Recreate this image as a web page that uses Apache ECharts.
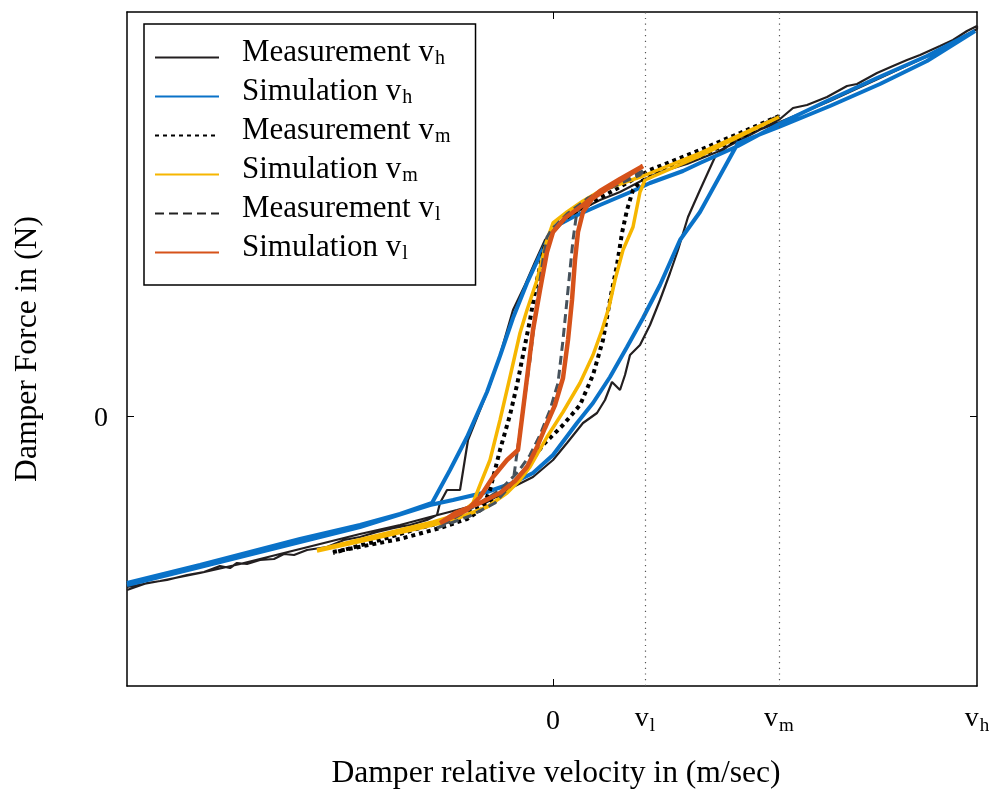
<!DOCTYPE html>
<html>
<head>
<meta charset="utf-8">
<script src="https://cdn.jsdelivr.net/npm/echarts@6/dist/echarts.min.js"></script>
<style>
  html, body { margin: 0; padding: 0; background: #fff; }
  #chart { width: 996px; height: 789px; }
</style>
</head>
<body>
<div id="chart"></div>
<script>
// Damper force vs. relative velocity: measured and simulated hysteresis loops
// at three excitation speeds (low, medium, high). Values are [velocity, force].

const measVh = [
  [-4.26,-1.74],[-4.06,-1.67],[-3.86,-1.64],[-3.66,-1.59],[-3.49,-1.56],[-3.33,-1.50],
  [-3.23,-1.52],[-3.16,-1.47],[-3.06,-1.48],[-2.93,-1.44],[-2.79,-1.43],[-2.69,-1.38],
  [-2.59,-1.39],[-2.46,-1.34],[-2.26,-1.31],[-2.09,-1.24],[-1.93,-1.21],[-1.76,-1.16],
  [-1.59,-1.12],[-1.43,-1.09],[-1.26,-1.04],[-1.16,-0.99],[-1.13,-0.87],[-1.06,-0.74],
  [-0.93,-0.74],[-0.85,-0.24],[-0.73,0.06],[-0.63,0.31],[-0.53,0.61],[-0.40,1.06],
  [-0.28,1.31],[-0.18,1.54],[-0.08,1.76],[0.07,1.94],[0.27,2.06],[0.47,2.16],
  [0.67,2.24],[0.90,2.36],[1.07,2.44],[1.34,2.52],[1.64,2.64],[1.97,2.81],
  [2.27,2.97],[2.40,3.08],[2.54,3.11],[2.74,3.19],[2.94,3.30],[3.04,3.32],
  [3.24,3.43],[3.40,3.50],[3.54,3.56],[3.67,3.61],[3.87,3.70],[4.00,3.76],
  [4.14,3.85],[4.24,3.90],
  [4.24,3.87],[3.77,3.61],[3.27,3.38],[2.77,3.15],[2.27,2.94],[1.85,2.78],
  [1.62,2.59],[1.47,2.26],[1.35,1.99],[1.25,1.66],[1.17,1.43],[1.07,1.16],
  [0.97,0.91],[0.87,0.71],[0.77,0.61],[0.72,0.41],[0.67,0.26],[0.59,0.34],
  [0.52,0.16],[0.44,0.03],[0.30,-0.07],[0.14,-0.27],[0.00,-0.44],[-0.20,-0.61],
  [-0.40,-0.71],[-0.66,-0.86],[-0.96,-0.94],[-1.23,-1.01],[-1.53,-1.09],[-1.93,-1.18],
  [-2.33,-1.28],[-2.73,-1.38],[-3.13,-1.48],[-3.53,-1.57],[-3.93,-1.65],[-4.26,-1.71]
];

const simVh = [
  [-4.26,-1.67],[-3.53,-1.49],[-2.53,-1.23],[-1.93,-1.09],[-1.53,-0.98],[-1.21,-0.87],
  [-1.03,-0.54],[-0.86,-0.21],[-0.66,0.24],[-0.53,0.60],[-0.40,0.98],[-0.26,1.33],
  [-0.13,1.61],[-0.03,1.81],[0.07,1.92],[0.20,1.99],[0.47,2.11],[0.80,2.25],
  [0.97,2.33],[1.30,2.45],[1.47,2.53],[1.85,2.70],[2.26,2.92],[2.74,3.15],
  [3.24,3.38],[3.74,3.60],[4.22,3.85],
  [4.22,3.83],[3.74,3.55],[3.27,3.32],[2.77,3.10],[2.26,2.89],[1.85,2.73],
  [1.47,2.04],[1.27,1.76],[1.07,1.31],[0.90,0.98],[0.74,0.69],[0.57,0.39],
  [0.40,0.13],[0.24,-0.07],[0.00,-0.39],[-0.20,-0.57],[-0.40,-0.67],[-0.66,-0.76],
  [-1.00,-0.84],[-1.23,-0.89],[-1.93,-1.11],[-2.53,-1.26],[-3.53,-1.51],[-4.26,-1.69]
];

const measVm = [
  [-2.20,-1.36],[-1.53,-1.23],[-1.13,-1.12],[-0.86,-1.03],[-0.71,-0.93],[-0.63,-0.74],
  [-0.53,-0.34],[-0.43,0.01],[-0.36,0.31],[-0.30,0.61],[-0.23,0.96],[-0.16,1.36],
  [-0.08,1.71],[-0.01,1.86],[0.17,2.01],[0.47,2.18],[0.72,2.32],[0.97,2.46],
  [1.47,2.66],[1.87,2.83],[2.26,3.00],
  [1.87,2.78],[1.47,2.60],[1.07,2.44],[0.87,2.34],[0.80,2.26],[0.74,2.06],
  [0.69,1.83],[0.64,1.51],[0.57,1.16],[0.50,0.76],[0.40,0.41],[0.27,0.11],
  [0.10,-0.09],[-0.10,-0.29],[-0.23,-0.47],[-0.43,-0.72],[-0.66,-0.88],[-1.00,-1.04],
  [-1.33,-1.12],[-1.73,-1.24],[-2.20,-1.37]
];

const simVm = [
  [-2.36,-1.34],[-1.53,-1.14],[-1.20,-1.06],[-0.93,-0.98],[-0.80,-0.87],[-0.73,-0.69],
  [-0.63,-0.44],[-0.53,-0.04],[-0.43,0.39],[-0.33,0.83],[-0.26,1.06],[-0.16,1.36],
  [-0.06,1.76],[0.00,1.93],[0.14,2.04],[0.30,2.15],[0.47,2.25],[0.90,2.40],
  [1.47,2.63],[2.26,2.99],
  [1.47,2.60],[0.92,2.36],[0.87,2.24],[0.80,1.89],[0.70,1.66],[0.62,1.36],
  [0.56,1.09],[0.49,0.86],[0.40,0.61],[0.27,0.33],[0.10,0.04],[-0.06,-0.21],
  [-0.23,-0.51],[-0.33,-0.64],[-0.46,-0.77],[-0.66,-0.91],[-1.00,-1.04],[-1.33,-1.12],
  [-1.73,-1.21],[-2.36,-1.35]
];

const measVl = [
  [-1.16,-1.12],[-0.83,-1.00],[-0.58,-0.87],[-0.40,-0.67],[-0.36,-0.37],[-0.30,0.06],
  [-0.23,0.56],[-0.16,1.16],[-0.10,1.56],[-0.06,1.79],[-0.01,1.87],[0.14,2.02],
  [0.34,2.17],[0.59,2.32],[0.92,2.46],
  [0.87,2.41],[0.57,2.28],[0.35,2.18],[0.27,2.11],[0.23,1.98],[0.20,1.76],
  [0.15,1.26],[0.10,0.76],[0.05,0.33],[-0.03,0.06],[-0.13,-0.19],[-0.23,-0.39],
  [-0.35,-0.56],[-0.53,-0.74],[-0.78,-0.90],[-1.16,-1.12]
];

const simVl = [
  [-1.13,-1.07],[-0.86,-0.94],[-0.73,-0.81],[-0.60,-0.61],[-0.46,-0.44],[-0.35,-0.34],
  [-0.30,0.06],[-0.25,0.46],[-0.20,0.86],[-0.13,1.26],[-0.06,1.64],[0.00,1.84],
  [0.12,1.98],[0.30,2.11],[0.47,2.25],[0.67,2.37],[0.90,2.50],
  [0.57,2.29],[0.39,2.17],[0.30,2.04],[0.25,1.84],[0.22,1.56],[0.19,1.16],
  [0.15,0.76],[0.10,0.38],[0.02,0.11],[-0.08,-0.12],[-0.16,-0.31],[-0.26,-0.51],
  [-0.38,-0.65],[-0.53,-0.77],[-0.73,-0.87],[-0.98,-0.97],[-1.13,-1.07]
];

// axis ranges and characteristic velocities
const xRange = [-4.26, 4.24];
const yRange = [-2.70, 4.04];
const refVelocities = [0.92, 2.26];          // v_l, v_m guide lines
const xTickValues = [0, 0.92, 2.26, 4.24];
const xTickLabels = ['0', 'v_l', 'v_m', 'v_h'];
const yTickValues = [0];
const yTickLabels = ['0'];

const seriesNames = [
  'Measurement v_h', 'Simulation v_h',
  'Measurement v_m', 'Simulation v_m',
  'Measurement v_l', 'Simulation v_l'
];

const FONT = '"Liberation Serif", "DejaVu Serif", serif';

// "v_l" -> rich text with a subscript; plain numbers use their own style
function subText(s) {
  const i = s.indexOf('_');
  if (i < 0) return '{z|' + s + '}';
  return '{v|' + s.slice(0, i) + '}{s|' + s.slice(i + 1) + '}';
}
function legendText(s) {
  const i = s.indexOf('_');
  return '{a|' + s.slice(0, i) + '}{s|' + s.slice(i + 1) + '}';
}
function pickLabel(values, labels, v) {
  for (let k = 0; k < values.length; k++) {
    if (Math.abs(values[k] - v) < 1e-6) return labels[k];
  }
  return '';
}

const tickRich = {
  z: { fontSize: 28, fontFamily: FONT, color: '#000', lineHeight: 28, padding: [6, 0, 0, 0] },
  v: { fontSize: 28, fontFamily: FONT, color: '#000', lineHeight: 28, verticalAlign: 'middle' },
  s: { fontSize: 19, fontFamily: FONT, color: '#000', lineHeight: 19, padding: [14, 0, 0, 1], verticalAlign: 'middle' }
};

function lineSeries(name, data, color, width, type, extra) {
  return Object.assign({
    name: name,
    type: 'line',
    data: data,
    showSymbol: false,
    symbol: 'none',
    smooth: false,
    animation: false,
    lineStyle: { color: color, width: width, type: type },
    itemStyle: { color: color }
  }, extra || {});
}

const chart = echarts.init(document.getElementById('chart'), null, { renderer: 'canvas' });

chart.setOption({
  backgroundColor: '#fff',
  animation: false,
  grid: { left: 127, right: 19, top: 12, bottom: 103, containLabel: false, outerBoundsMode: 'none' },
  legend: {
    orient: 'vertical',
    left: 144,
    top: 24,
    padding: [13, 25, 12, 10],
    itemWidth: 64,
    itemHeight: 14,
    itemGap: -2,
    backgroundColor: '#fff',
    borderColor: '#000',
    borderWidth: 1.5,
    borderRadius: 0,
    itemStyle: { opacity: 0 },
    data: [
      { name: seriesNames[0] },
      { name: seriesNames[1] },
      { name: seriesNames[2] },
      { name: seriesNames[3] },
      { name: seriesNames[4], lineStyle: { color: '#222' } },
      { name: seriesNames[5] }
    ],
    formatter: legendText,
    textStyle: {
      fontFamily: FONT,
      color: '#000',
      rich: {
        a: { fontSize: 31, fontFamily: FONT, color: '#000', lineHeight: 29, padding: [0, 0, 10, 18], verticalAlign: 'middle' },
        s: { fontSize: 20, fontFamily: FONT, color: '#000', lineHeight: 20, padding: [2, 0, 0, 1], verticalAlign: 'middle' }
      }
    }
  },
  xAxis: [
    {
      type: 'value',
      min: xRange[0],
      max: xRange[1],
      position: 'bottom',
      name: 'Damper relative velocity in (m/sec)',
      nameLocation: 'middle',
      nameGap: 72,
      nameTextStyle: { fontFamily: FONT, fontSize: 31.6, color: '#000', padding: [0, 0, 0, 8] },
      axisLine: { show: true, onZero: false, lineStyle: { color: '#000', width: 1.5 } },
      axisTick: { show: true, inside: true, length: 7, customValues: [0], lineStyle: { color: '#000', width: 1 } },
      axisLabel: {
        customValues: xTickValues,
        margin: 19,
        formatter: function (v) { return subText(pickLabel(xTickValues, xTickLabels, v)); },
        rich: tickRich
      },
      splitLine: { show: false }
    },
    {
      type: 'value',
      min: xRange[0],
      max: xRange[1],
      position: 'top',
      axisLine: { show: true, onZero: false, lineStyle: { color: '#000', width: 1.5 } },
      axisTick: { show: true, inside: true, length: 7, customValues: [0], lineStyle: { color: '#000', width: 1 } },
      axisLabel: { show: false },
      splitLine: { show: false }
    }
  ],
  yAxis: [
    {
      type: 'value',
      min: yRange[0],
      max: yRange[1],
      position: 'left',
      name: 'Damper Force in (N)',
      nameLocation: 'middle',
      nameGap: 83,
      nameTextStyle: { fontFamily: FONT, fontSize: 31.6, color: '#000' },
      axisLine: { show: true, onZero: false, lineStyle: { color: '#000', width: 1.5 } },
      axisTick: { show: true, inside: true, length: 7, customValues: [0], lineStyle: { color: '#000', width: 1 } },
      axisLabel: {
        customValues: yTickValues,
        margin: 19,
        formatter: function (v) { return '{z|' + pickLabel(yTickValues, yTickLabels, v) + '}'; },
        rich: {
          z: { fontSize: 28, fontFamily: FONT, color: '#000', lineHeight: 28, padding: [6, 0, 0, 0] }
        }
      },
      splitLine: { show: false }
    },
    {
      type: 'value',
      min: yRange[0],
      max: yRange[1],
      position: 'right',
      axisLine: { show: true, onZero: false, lineStyle: { color: '#000', width: 1.5 } },
      axisTick: { show: true, inside: true, length: 7, customValues: [0], lineStyle: { color: '#000', width: 1 } },
      axisLabel: { show: false },
      splitLine: { show: false }
    }
  ],
  series: [
    lineSeries(seriesNames[0], measVh, '#231f20', 2.2, 'solid', {
      markLine: {
        silent: true,
        symbol: ['none', 'none'],
        label: { show: false },
        lineStyle: { color: '#555', width: 1.2, type: [1.2, 4.5] },
        data: refVelocities.map(function (v) { return { xAxis: v }; })
      }
    }),
    lineSeries(seriesNames[1], simVh, '#0a72c8', 4, 'solid'),
    lineSeries(seriesNames[2], measVm, '#000000', 4, [4, 4]),
    lineSeries(seriesNames[3], simVm, '#f6b600', 3.5, 'solid'),
    lineSeries(seriesNames[4], measVl, '#46525c', 3, [9, 5]),
    lineSeries(seriesNames[5], simVl, '#d6521a', 4.5, 'solid')
  ]
});
</script>
</body>
</html>
